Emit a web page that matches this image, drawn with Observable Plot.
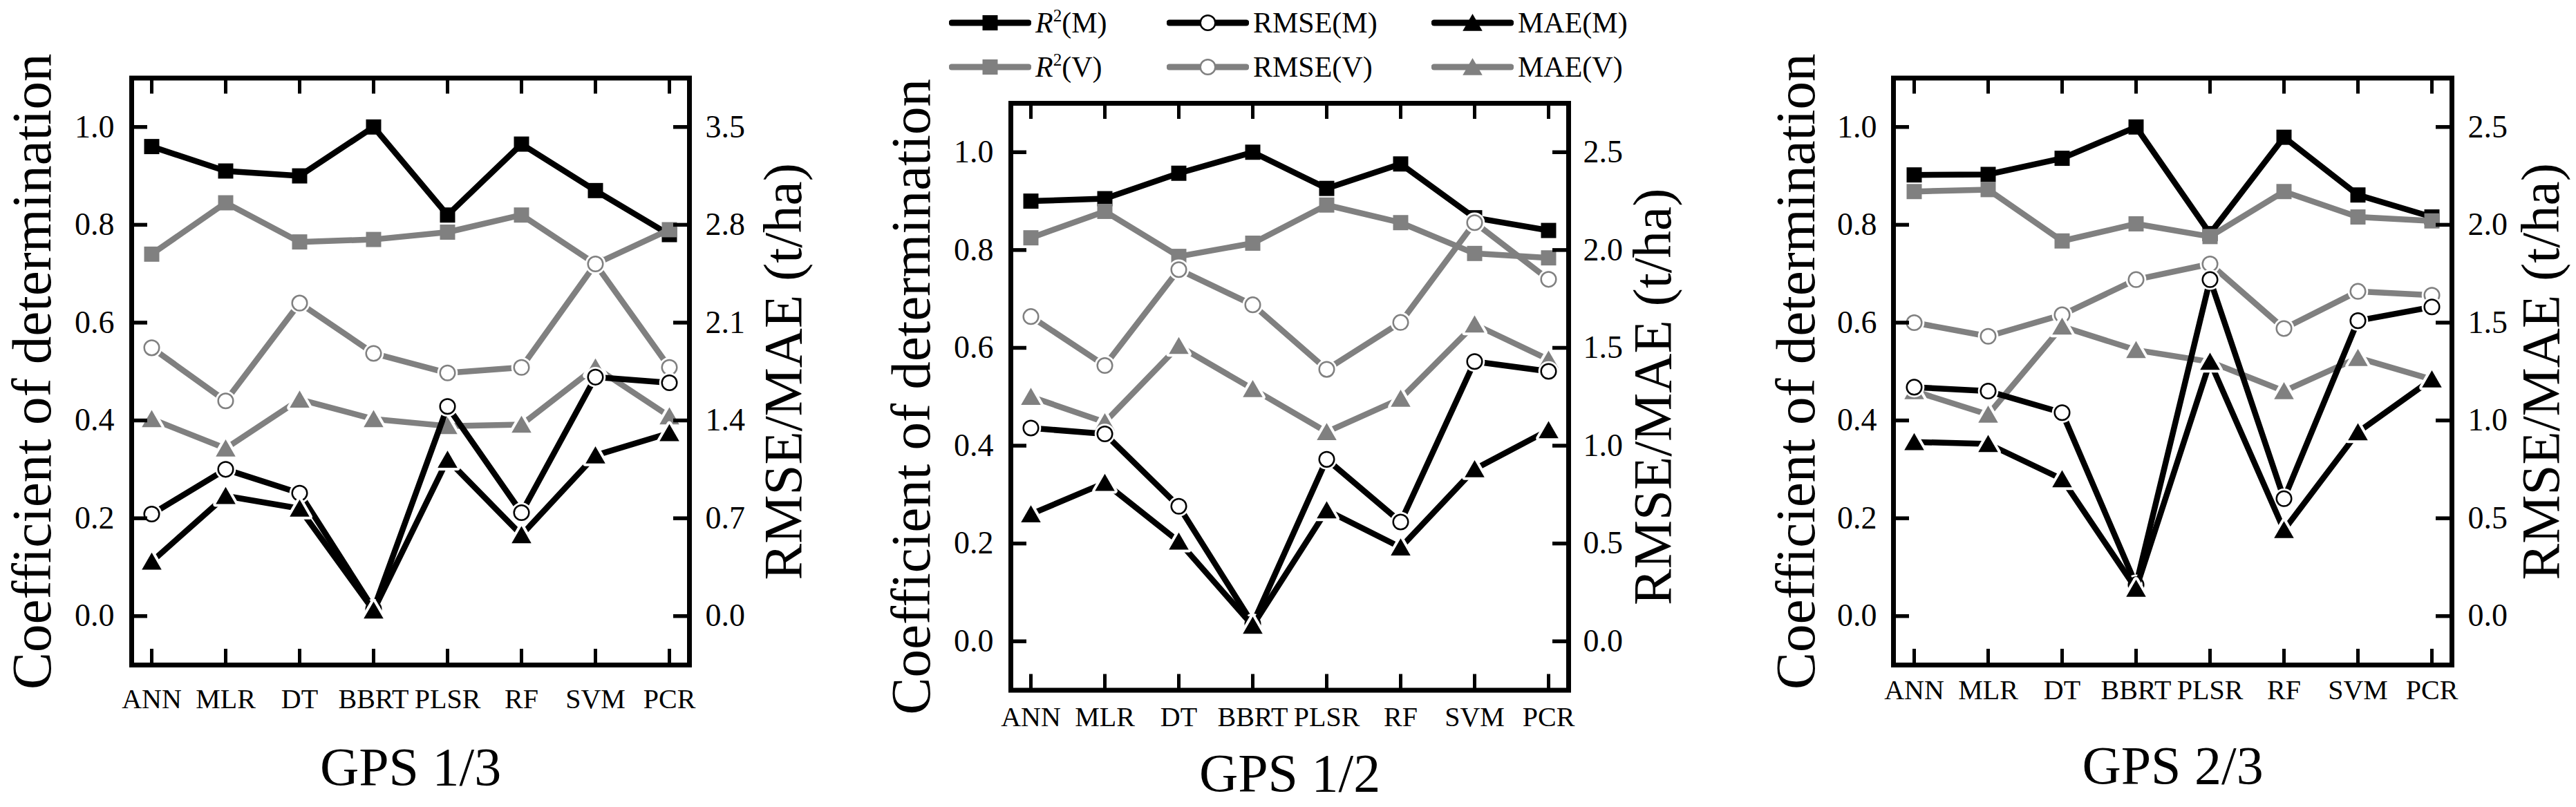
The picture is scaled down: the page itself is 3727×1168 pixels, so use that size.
<!DOCTYPE html>
<html>
<head>
<meta charset="utf-8">
<script src="https://cdn.jsdelivr.net/npm/d3@7"></script>
<script src="https://cdn.jsdelivr.net/npm/@observablehq/plot@0.6"></script>
<style>
html, body { margin: 0; padding: 0; background: #fff; }
#root { position: relative; width: 3727px; height: 1168px; overflow: hidden; font-family: 'Liberation Serif', 'DejaVu Serif', serif; }
.panel { position: absolute; top: 0; font-family: 'Liberation Serif', 'DejaVu Serif', serif; }
.panel text { font-family: 'Liberation Serif', 'DejaVu Serif', serif; }
.legend-item { position: absolute; display: flex; align-items: center; height: 50px; font-size: 42px; color: #000; white-space: nowrap; font-family: 'Liberation Serif', 'DejaVu Serif', serif; }
.legend-item svg { display: block; margin-right: 6px; }
.sup { font-size: 0.6em; position: relative; top: -0.62em; }
</style>
</head>
<body>
<div id="root"></div>
<script>
// ---------------- data ----------------
const models = ["ANN", "MLR", "DT", "BBRT", "PLSR", "RF", "SVM", "PCR"];
const panelTitles = ["GPS 1/3", "GPS 1/2", "GPS 2/3"];
const leftLabel = "Coefficient of determination";
const rightLabel = "RMSE/MAE (t/ha)";
const leftTicks = [0.0, 0.2, 0.4, 0.6, 0.8, 1.0];
const rightTicks13 = [0.0, 0.7, 1.4, 2.1, 2.8, 3.5];
const rightTicks12 = [0.0, 0.5, 1.0, 1.5, 2.0, 2.5];
const rightTicks23 = [0.0, 0.5, 1.0, 1.5, 2.0, 2.5];
const seriesNames = ["R²(M)", "R²(V)", "RMSE(V)", "MAE(V)", "RMSE(M)", "MAE(M)"];

// GPS 1/3  (R² unitless, RMSE/MAE in t/ha)
const r2M_13   = [0.96, 0.91, 0.90, 1.00, 0.82, 0.965, 0.87, 0.78];
const r2V_13   = [0.74, 0.845, 0.765, 0.77, 0.785, 0.82, 0.72, 0.79];
const rmseM_13 = [0.73, 1.05, 0.88, 0.05, 1.50, 0.74, 1.71, 1.67];
const rmseV_13 = [1.92, 1.54, 2.24, 1.88, 1.74, 1.78, 2.52, 1.78];
const maeM_13  = [0.39, 0.86, 0.77, 0.04, 1.12, 0.58, 1.15, 1.31];
const maeV_13  = [1.41, 1.20, 1.55, 1.41, 1.36, 1.37, 1.78, 1.43];

// GPS 1/2
const r2M_12   = [0.90, 0.905, 0.957, 1.00, 0.926, 0.976, 0.866, 0.84];
const r2V_12   = [0.825, 0.879, 0.787, 0.814, 0.892, 0.856, 0.793, 0.784];
const rmseM_12 = [1.09, 1.06, 0.69, 0.09, 0.93, 0.61, 1.43, 1.38];
const rmseV_12 = [1.66, 1.41, 1.90, 1.72, 1.39, 1.63, 2.14, 1.85];
const maeM_12  = [0.65, 0.81, 0.51, 0.08, 0.67, 0.48, 0.88, 1.08];
const maeV_12  = [1.25, 1.12, 1.51, 1.29, 1.07, 1.24, 1.62, 1.44];

// GPS 2/3
const r2M_23   = [0.902, 0.903, 0.936, 1.00, 0.782, 0.979, 0.861, 0.816];
const r2V_23   = [0.868, 0.872, 0.767, 0.802, 0.776, 0.868, 0.816, 0.808];
const rmseM_23 = [1.17, 1.15, 1.04, 0.16, 1.72, 0.60, 1.51, 1.58];
const rmseV_23 = [1.50, 1.43, 1.54, 1.72, 1.80, 1.47, 1.66, 1.64];
const maeM_23  = [0.89, 0.88, 0.70, 0.14, 1.30, 0.44, 0.94, 1.21];
const maeV_23  = [1.15, 1.03, 1.48, 1.36, 1.30, 1.15, 1.32, 1.21];

// ---------------- styles ----------------
const BLACK = "#000000";
const GRAY = "#808080";
const FONT = "'Liberation Serif', 'DejaVu Serif', serif";
const styleOf = {
  "R²(M)":   {color: BLACK, symbol: "square",   r: 12.4, hollow: false},
  "R²(V)":   {color: GRAY,  symbol: "square",   r: 12.4, hollow: false},
  "RMSE(M)": {color: BLACK, symbol: "circle",   r: 10.8, hollow: true},
  "RMSE(V)": {color: GRAY,  symbol: "circle",   r: 10.8, hollow: true},
  "MAE(M)":  {color: BLACK, symbol: "triangle", r: 10.6, hollow: false},
  "MAE(V)":  {color: GRAY,  symbol: "triangle", r: 10.6, hollow: false}
};

const panels = [
  {title: panelTitles[0], rTicks: rightTicks13, left: 0, width: 1240, ml: 190, mr: 243, mt: 112.5, mb: 206,
   series: {"R²(M)": r2M_13, "R²(V)": r2V_13, "RMSE(M)": rmseM_13, "RMSE(V)": rmseV_13, "MAE(M)": maeM_13, "MAE(V)": maeV_13},
   lDx: -118, rDx: 161, lPad: 25, rPad: 23, xPad: 34, tDy: 173},
  {title: panelTitles[1], rTicks: rightTicks12, left: 1240, width: 1250, ml: 222, mr: 221, mt: 149, mb: 169.5,
   series: {"R²(M)": r2M_12, "R²(V)": r2V_12, "RMSE(M)": rmseM_12, "RMSE(V)": rmseV_12, "MAE(M)": maeM_12, "MAE(V)": maeV_12},
   lDx: -118, rDx: 147, lPad: 25, rPad: 21, xPad: 24, tDy: 145.5},
  {title: panelTitles[2], rTicks: rightTicks23, left: 2490, width: 1237, ml: 249, mr: 180, mt: 112.5, mb: 206,
   series: {"R²(M)": r2M_23, "R²(V)": r2V_23, "RMSE(M)": rmseM_23, "RMSE(V)": rmseV_23, "MAE(M)": maeM_23, "MAE(V)": maeV_23},
   lDx: -115, rDx: 154, lPad: 24, rPad: 23, xPad: 21.5, tDy: 171}
];

const root = document.getElementById("root");

for (const p of panels) {
  const H = 1168;
  const innerW = p.width - p.ml - p.mr;
  const innerH = H - p.mt - p.mb;
  const rMax = p.rTicks[p.rTicks.length - 1];
  const tick = 23;
  const marks = [];

  for (const name of seriesNames) {
    const st = styleOf[name];
    const isR2 = name.startsWith("R²");
    const data = models.map((m, i) => ({m, v: isR2 ? p.series[name][i] : p.series[name][i] / rMax}));
    const dy = st.symbol === "triangle" ? 3.5 : 0;
    marks.push(Plot.line(data, {x: "m", y: "v", stroke: st.color, strokeWidth: 8.5, strokeLinejoin: "round"}));
    if (st.symbol !== "square") {
      marks.push(Plot.dot(data, {x: "m", y: "v", dy, symbol: st.symbol, r: st.r, fill: "white", stroke: "white", strokeWidth: 8, strokeLinejoin: "round"}));
    }
    if (st.hollow) {
      marks.push(Plot.dot(data, {x: "m", y: "v", symbol: st.symbol, r: st.r, fill: "white", stroke: st.color, strokeWidth: 2.5}));
    } else {
      marks.push(Plot.dot(data, {x: "m", y: "v", dy, symbol: st.symbol, r: st.r, fill: st.color, stroke: "none"}));
    }
  }

  // inward ticks on all four sides
  marks.push(Plot.tickY(leftTicks, {y: d => d, stroke: BLACK, strokeWidth: 5.5, insetRight: innerW - tick}));
  marks.push(Plot.tickY(leftTicks, {y: d => d, stroke: BLACK, strokeWidth: 5.5, insetLeft: innerW - tick}));
  marks.push(Plot.tickX(models, {x: d => d, stroke: BLACK, strokeWidth: 5, insetBottom: innerH - tick}));
  marks.push(Plot.tickX(models, {x: d => d, stroke: BLACK, strokeWidth: 5, insetTop: innerH - tick}));
  marks.push(Plot.frame({stroke: BLACK, strokeWidth: 7}));

  // axes (labels only)
  marks.push(Plot.axisY({anchor: "left", ticks: leftTicks, tickSize: 0, tickPadding: p.lPad, tickFormat: d => d.toFixed(1), fontSize: 46, fontFamily: FONT, label: null}));
  marks.push(Plot.axisY({anchor: "right", ticks: p.rTicks.map(t => t / rMax), tickSize: 0, tickPadding: p.rPad, tickFormat: d => (d * rMax).toFixed(1), fontSize: 46, fontFamily: FONT, label: null}));
  marks.push(Plot.axisX({anchor: "bottom", tickSize: 0, tickPadding: p.xPad, fontSize: 40, fontFamily: FONT, label: null}));

  // axis titles
  marks.push(Plot.text([leftLabel], {text: d => d, frameAnchor: "left", dx: p.lDx, rotate: -90, textAnchor: "middle", lineAnchor: "bottom", fontSize: 81, fontFamily: FONT}));
  marks.push(Plot.text([rightLabel], {text: d => d, frameAnchor: "right", dx: p.rDx, rotate: -90, textAnchor: "middle", lineAnchor: "bottom", fontSize: 79, fontFamily: FONT}));
  marks.push(Plot.text([p.title], {text: d => d, frameAnchor: "bottom", dy: p.tDy, lineAnchor: "bottom", fontSize: 78, fontFamily: FONT}));

  const chart = Plot.plot({
    width: p.width,
    height: H,
    marginLeft: p.ml,
    marginRight: p.mr,
    marginTop: p.mt,
    marginBottom: p.mb,
    style: {fontFamily: FONT, color: "#000", background: "transparent", overflow: "visible"},
    x: {type: "point", domain: models, padding: 0.25, axis: null},
    y: {domain: [-0.1, 1.1], axis: null},
    marks
  });
  chart.classList.add("panel");
  chart.style.left = p.left + "px";
  root.appendChild(chart);
}

// ---------------- legend (HTML) ----------------
const legendLayout = [
  {name: "R²(M)",   x: 1373, y: 33},
  {name: "R²(V)",   x: 1373, y: 97},
  {name: "RMSE(M)", x: 1688, y: 33},
  {name: "RMSE(V)", x: 1688, y: 97},
  {name: "MAE(M)",  x: 2071, y: 33},
  {name: "MAE(V)",  x: 2071, y: 97}
];
const sampleW = 119;
for (const item of legendLayout) {
  const st = styleOf[item.name];
  const div = document.createElement("div");
  div.className = "legend-item";
  div.style.left = item.x + "px";
  div.style.top = (item.y - 25) + "px";
  const svg = d3.create("svg").attr("width", sampleW).attr("height", 50);
  svg.append("line").attr("x1", 4).attr("x2", sampleW - 4).attr("y1", 25).attr("y2", 25)
    .attr("stroke", st.color).attr("stroke-width", 9).attr("stroke-linecap", "round");
  const sym = {square: d3.symbolSquare, circle: d3.symbolCircle, triangle: d3.symbolTriangle}[st.symbol];
  const size = Math.PI * st.r * st.r;
  if (st.hollow) {
    svg.append("path").attr("d", d3.symbol(sym, size)()).attr("transform", `translate(${sampleW / 2},25)`)
      .attr("fill", "white").attr("stroke", st.color).attr("stroke-width", 2.5);
  } else {
    svg.append("path").attr("d", d3.symbol(sym, size)()).attr("transform", `translate(${sampleW / 2},${st.symbol === "triangle" ? 28.5 : 25})`)
      .attr("fill", st.color);
  }
  div.appendChild(svg.node());
  const label = document.createElement("span");
  if (item.name.startsWith("R²")) {
    label.innerHTML = `<i>R</i><span class="sup">2</span>${item.name.slice(2)}`;
  } else {
    label.textContent = item.name;
  }
  div.appendChild(label);
  root.appendChild(div);
}
</script>
</body>
</html>
